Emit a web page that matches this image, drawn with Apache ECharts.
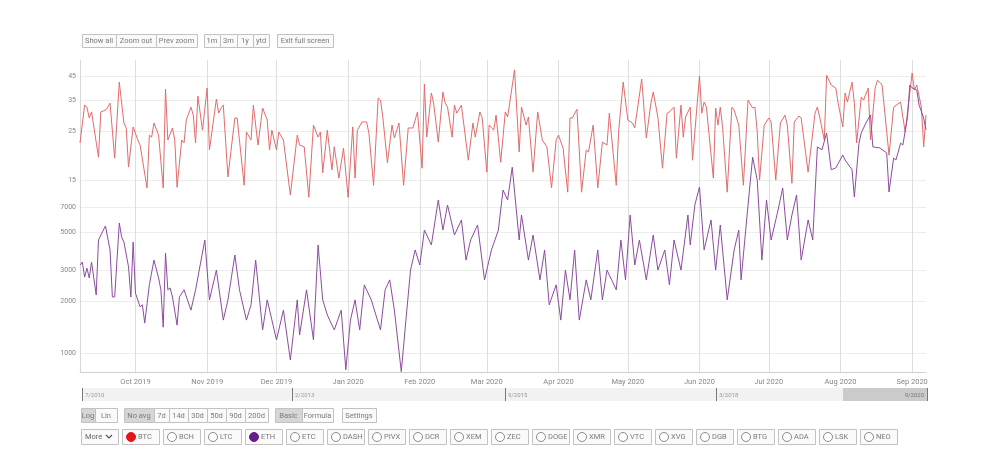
<!DOCTYPE html>
<html>
<head>
<meta charset="utf-8">
<script src="https://cdn.jsdelivr.net/npm/echarts@6/dist/echarts.min.js"></script>
<style>
html, body { margin: 0; padding: 0; background: #fff; }
#chart { width: 999px; height: 462px; }
</style>
</head>
<body>
<div id="chart"></div>
<script>
// days counted from 2019-09-07
var startDate = Date.UTC(2019, 8, 7);
var endDate = Date.UTC(2020, 8, 7);

var btcDays = [0,2,3,4,5,6,8,9,11,12,13,15,17,19,20,21,23,25,26,29,30,31,32,34,36,37,38,40,41,42,44,45,46,48,49,50,51,53,55,56,59,60,61,62,64,67,68,71,72,74,75,77,79,81,82,83,84,85,86,88,91,94,95,97,99,101,103,104,105,107,109,110,112,114,116,118,119,120,122,124,125,127,129,130,131,133,135,136,138,140,142,144,146,148,149,150,152,153,155,157,158,159,161,162,163,165,168,170,171,173,174,176,177,179,180,182,184,185,188,190,191,193,194,196,198,200,202,204,206,207,209,211,212,213,215,217,219,220,222,224,226,228,229,232,233,235,237,239,240,243,245,247,248,250,252,254,255,257,258,260,261,262,264,265,268,269,270,271,274,275,276,277,278,280,282,283,285,287,289,291,292,293,294,296,298,299,301,303,305,306,308,309,311,312,315,318,319,320,322,323,325,327,328,330,331,332,334,335,336,338,339,341,342,344,345,347,350,352,355,357,360,361,362,364,365,366];
var btcValues = [22.2,33.1,32.4,28.9,30.8,26.3,19.1,30.8,31.4,32.4,33.8,18.9,42.2,27.4,26.0,17.2,26.3,22.9,21.7,13.8,24.1,23.6,27.4,24.1,13.8,39.2,22.9,26.0,22.9,13.9,22.9,22.2,28.3,32.4,29.8,22.2,36.4,25.4,39.6,20.6,35.3,30.4,32.1,33.1,15.5,28.9,28.9,14.2,24.9,22.9,33.1,21.7,32.1,28.3,20.6,25.4,22.9,20.6,24.9,22.9,12.8,24.1,21.7,21.3,12.5,26.8,23.6,24.9,16.2,25.4,16.7,21.3,15.3,21.0,12.5,26.3,15.3,25.4,27.7,27.7,24.6,14.2,35.7,34.9,29.2,18.0,26.8,23.4,27.4,14.2,26.0,26.0,30.8,17.0,41.3,23.6,37.6,33.8,22.4,38.0,33.8,32.4,23.6,33.1,30.4,33.1,18.5,27.4,23.6,30.8,28.9,16.3,26.8,25.4,29.8,18.1,30.8,29.2,48.0,20.2,32.4,26.8,29.2,16.3,30.8,22.9,21.3,13.8,22.9,24.1,21.0,13.2,28.9,28.9,31.7,13.2,20.6,20.2,26.8,13.8,22.4,21.7,30.4,14.2,24.9,42.2,28.3,27.4,26.0,43.6,23.4,33.8,38.0,29.2,17.0,30.4,30.8,32.4,18.9,33.1,23.6,29.2,32.4,18.5,45.0,30.4,34.2,32.4,15.3,32.1,26.8,32.4,26.3,13.2,32.4,31.4,26.8,14.2,34.9,32.1,32.4,24.9,15.0,26.8,28.9,27.7,15.0,27.4,29.8,26.8,14.5,27.7,29.5,28.9,16.3,30.4,32.4,29.2,22.9,45.4,40.9,39.6,33.8,26.3,37.6,34.2,42.2,33.8,22.2,36.0,34.9,39.6,22.9,39.6,43.1,40.9,19.5,32.4,34.2,24.9,46.4,38.8,40.9,32.4,21.3,29.8];

var ethDays = [0,1,2,3,4,5,7,8,11,13,14,15,17,18,19,21,22,23,24,26,27,28,30,32,34,35,36,37,38,39,40,42,43,45,48,50,54,56,59,62,64,67,69,72,74,76,79,81,85,88,91,94,95,98,101,103,105,107,110,113,115,117,119,121,123,126,130,132,134,136,139,141,143,145,147,149,152,155,157,159,162,165,167,169,172,175,178,181,183,185,187,190,191,194,196,199,201,203,206,208,210,212,214,216,219,221,224,226,228,232,234,236,238,240,242,245,248,250,253,255,257,260,263,264,266,268,270,273,275,277,280,283,285,286,289,291,293,295,297,299,302,304,306,308,310,312,315,317,319,321,323,325,327,330,331,334,335,337,338,340,342,343,346,349,350,352,353,355,356,358,359,360,362,363,365,366];
var ethValues = [3230,3360,2750,3100,2720,3360,2170,4510,5440,3950,2110,2110,5660,4700,4390,3150,2110,4390,2220,1850,1900,1490,2480,3450,2720,2320,1410,3790,2320,2380,2110,1450,2110,2320,1770,2320,4510,2030,3020,1550,2030,3690,2320,1550,1900,3450,1360,2030,1190,1770,910,2030,1270,2320,1190,4220,2030,1660,1360,1770,800,1550,2030,1360,2480,2030,1360,2320,2650,1770,780,1550,3020,3950,3230,5150,4220,7690,5150,7190,4820,5890,3450,4510,5510,2650,3950,5150,8780,7690,11900,4510,6290,3450,4820,2650,3950,1900,2480,1550,3020,2030,3950,1550,2650,2030,3950,2030,3020,2320,4510,2650,6290,3230,4510,2650,4820,3020,3950,2480,4510,3020,6290,4220,7190,9140,3950,5890,3020,5510,2030,3950,5150,2650,7190,13600,10000,3450,7690,4510,6730,9020,4510,6290,8220,3450,5890,4510,15600,15000,18800,11500,11800,14000,13100,11500,8000,16400,18800,21450,23900,15600,15400,14400,8550,13450,13100,16400,16000,23200,35600,34300,33300,27300,22900,19600];

var monthTicks = [Date.UTC(2019,9,1), Date.UTC(2019,10,1), Date.UTC(2019,11,1), Date.UTC(2020,0,1), Date.UTC(2020,1,1), Date.UTC(2020,2,1), Date.UTC(2020,3,1), Date.UTC(2020,4,1), Date.UTC(2020,5,1), Date.UTC(2020,6,1), Date.UTC(2020,7,1), Date.UTC(2020,8,1)];
var monthNames = ['Jan','Feb','Mar','Apr','May','Jun','Jul','Aug','Sep','Oct','Nov','Dec'];
var btcTicks = [15, 25, 35, 45];
var ethTicks = [1000, 2000, 3000, 5000, 7000];

var zoomButtons = ['Show all', 'Zoom out', 'Prev zoom'];
var rangeButtons = ['1m', '3m', '1y', 'ytd'];
var scaleButtons = ['Log', 'Lin'];
var avgButtons = ['No avg', '7d', '14d', '30d', '50d', '90d', '200d'];
var modeButtons = ['Basic', 'Formula'];
var coins = ['BTC','BCH','LTC','ETH','ETC','DASH','PIVX','DCR','XEM','ZEC','DOGE','XMR','VTC','XVG','DGB','BTG','ADA','LSK','NEO'];
var navLabels = ['7/2010', '2/2013', '9/2015', '3/2018', '9/2020'];

var DAY = 86400000;
function toPoints(days, vals) {
    return days.map(function (d, i) { return [startDate + d * DAY, vals[i]]; });
}

var FONT = 'Roboto, "Liberation Sans", sans-serif';
var TXT = '#7a7a7a';
var graphics = [];

function button(x, y, w, h, text, active) {
    graphics.push({
        type: 'rect', shape: { x: x + 0.5, y: y + 0.5, width: w, height: h },
        style: { fill: active ? '#d6d6d6' : '#fafafa', stroke: '#c2c2c2', lineWidth: 1 }
    });
    graphics.push({
        type: 'text', x: x + w / 2, y: y + h / 2 + 1,
        style: { text: text, fill: TXT, font: '7.5px ' + FONT, textAlign: 'center', textVerticalAlign: 'middle' }
    });
}

function group(x, y, h, labels, widths, activeIdx) {
    var cx = x;
    labels.forEach(function (t, i) {
        button(cx, y, widths[i], h, t, i === activeIdx);
        cx += widths[i];
    });
    return cx;
}

// top row
group(82, 34, 13, zoomButtons, [34, 40, 41], -1);
group(204, 34, 13, rangeButtons, [16, 17, 16, 16], -1);
button(277, 34, 56, 13, 'Exit full screen', false);

// navigator
graphics.push({ type: 'rect', shape: { x: 82, y: 388, width: 846, height: 13 }, style: { fill: '#f2f2f2' } });
graphics.push({ type: 'rect', shape: { x: 843, y: 388, width: 85, height: 13 }, style: { fill: '#cbcbcb' } });
[82, 292, 505, 716].forEach(function (nx, i) {
    graphics.push({ type: 'rect', shape: { x: nx, y: 388, width: 1, height: 13 }, style: { fill: '#777' } });
    graphics.push({ type: 'text', x: nx + 3, y: 395, style: { text: navLabels[i], fill: '#999', font: '6px ' + FONT, textVerticalAlign: 'middle' } });
});
graphics.push({ type: 'rect', shape: { x: 927, y: 388, width: 1, height: 13 }, style: { fill: '#777' } });
graphics.push({ type: 'text', x: 924, y: 395, style: { text: navLabels[4], fill: '#777', font: '6px ' + FONT, textAlign: 'right', textVerticalAlign: 'middle' } });

// bottom rows
group(81, 408, 14, scaleButtons, [14, 22], 0);
group(124, 408, 14, avgButtons, [30, 15, 19, 19, 19, 19, 23], 0);
group(275, 408, 14, modeButtons, [27, 31], 0);
button(342, 408, 34, 14, 'Settings', false);

button(81, 429, 37, 15, '', false);
graphics.push({ type: 'text', x: 85, y: 437, style: { text: 'More', fill: '#666', font: '7.5px ' + FONT, textVerticalAlign: 'middle' } });
graphics.push({ type: 'polyline', shape: { points: [[106, 435], [109, 438], [112, 435]] }, style: { stroke: '#555', lineWidth: 1.2, fill: null } });

coins.forEach(function (c, i) {
    var bx = 122 + i * 41;
    button(bx, 429, 37, 15, '', false);
    var col = c === 'BTC' ? '#e8141c' : (c === 'ETH' ? '#6a1b8a' : null);
    graphics.push({
        type: 'circle', shape: { cx: bx + 9, cy: 437, r: 4.5 },
        style: { fill: col || '#fff', stroke: col || '#8a8a8a', lineWidth: 1 }
    });
    graphics.push({ type: 'text', x: bx + 16, y: 437.5, style: { text: c, fill: TXT, font: '7.5px ' + FONT, textVerticalAlign: 'middle' } });
});

var chart = echarts.init(document.getElementById('chart'));
var option = {
    animation: false,
    backgroundColor: '#fff',
    grid: { left: 80, right: 73, top: 60, bottom: 90 },
    xAxis: {
        type: 'value',
        min: startDate,
        max: endDate,
        axisLine: { show: true, lineStyle: { color: '#d0d0d0' } },
        axisTick: { show: false, customValues: monthTicks },
        axisLabel: {
            customValues: monthTicks,
            color: '#888', fontSize: 7.5, fontFamily: FONT, margin: 6,
            formatter: function (v) {
                var d = new Date(v);
                return monthNames[d.getUTCMonth()] + ' ' + d.getUTCFullYear();
            }
        },
        splitLine: { show: true, lineStyle: { color: '#dedede' } }
    },
    yAxis: [{
        type: 'log',
        min: 1.976,
        max: 53.3,
        position: 'left',
        axisLine: { show: true, lineStyle: { color: '#d8d8d8' } },
        axisTick: { show: false, customValues: btcTicks },
        axisLabel: { customValues: btcTicks, color: '#888', fontSize: 7, fontFamily: FONT, margin: 4,
            formatter: function (v) { return String(Math.round(v)); } },
        splitLine: { show: true, lineStyle: { color: '#ececec' } }
    }, {
        type: 'log',
        min: 776,
        max: 49700,
        position: 'left',
        axisLine: { show: false },
        axisTick: { show: false, customValues: ethTicks },
        axisLabel: { customValues: ethTicks, color: '#888', fontSize: 7, fontFamily: FONT, margin: 4,
            formatter: function (v) { return String(Math.round(v)); } },
        splitLine: { show: true, lineStyle: { color: '#ececec' } }
    }],
    series: [{
        name: 'BTC',
        type: 'line',
        yAxisIndex: 0,
        showSymbol: false,
        data: toPoints(btcDays, btcValues),
        lineStyle: { color: '#e26b6b', width: 1 },
        itemStyle: { color: '#e26b6b' }
    }, {
        name: 'ETH',
        type: 'line',
        yAxisIndex: 1,
        showSymbol: false,
        data: toPoints(ethDays, ethValues),
        lineStyle: { color: '#8b4c9f', width: 1 },
        itemStyle: { color: '#8b4c9f' }
    }],
    graphic: graphics
};
chart.setOption(option);
</script>
</body>
</html>
